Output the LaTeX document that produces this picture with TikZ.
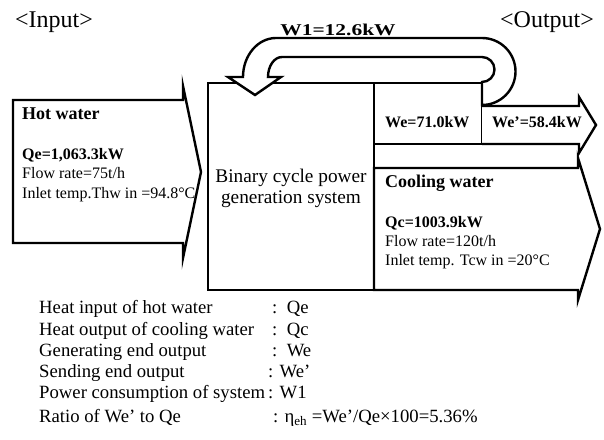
\documentclass[tikz,border=0pt]{standalone}
\usepackage{fontspec}
\setmainfont{Liberation Serif}
\usepackage{graphicx}
\usepackage{tikz}
\usetikzlibrary{positioning}

\begin{document}
\begin{tikzpicture}[
    x=1pt, y=-1pt,
    flow/.style={draw, line width=2.4pt, line join=miter, fill=white},
    title/.style={anchor=base west, inner sep=0pt, font=\fontsize{24}{28}\selectfont},
    head/.style={anchor=base west, inner sep=0pt, font=\fontsize{18}{21}\selectfont\bfseries},
    val/.style={anchor=base west, inner sep=0pt, font=\fontsize{16}{19}\selectfont\bfseries},
    txt/.style={anchor=base west, inner sep=0pt, font=\fontsize{16}{19}\selectfont},
    legend/.style={anchor=base west, inner sep=0pt, font=\fontsize{18.7}{21}\selectfont}
]
    \useasboundingbox (0,0) rectangle (604,439);

    % Titles
    \node[title] (intitle) at (15,27) {<Input>};
    \node[title] (outtitle) at (500,27) {<Output>};

    % Hot water inflow
    \draw[flow] (13,100) -- (183,100) -- (183,86) -- (201,172) -- (183,258) -- (183,243) -- (13,243) -- cycle;

    % Binary cycle system and generating end
    \draw[flow] (208,83) rectangle (374,290);
    \draw[flow] (374,83) rectangle (482,144);

    % Sending end output and cooling water
    \draw[flow] (482,106) -- (579,106) -- (579,97) -- (596,125) -- (579,153) -- (579,144) -- (482,144);
    \draw[flow] (374,168) -- (578,168) -- (578,158) -- (600,229) -- (578,300) -- (578,290) -- (374,290) -- cycle;

    % Power consumption loop W1
    \draw[flow] (482,82) arc[start angle=90, end angle=-90, radius=12.5] -- (282,57)
        arc[start angle=-90, end angle=-180, x radius=14, y radius=20]
        -- (281,77) -- (255,95) -- (228,77) -- (243,77)
        arc[start angle=180, end angle=270, x radius=33, y radius=39]
        -- (482,38) arc[start angle=-90, end angle=90, radius=33.5] -- cycle;
    \node[anchor=base, inner sep=0pt, font=\fontsize{16.5}{19}\selectfont\bfseries] (wone) at (338,35) {\scalebox{1.3}[1]{W1=12.6kW}};

    % Hot water texts
    \node[head] (hotw) at (22,119) {Hot water};
    \node[val] (qe) at (22,159) {Qe=1,063.3kW};
    \node[txt] (hotflow) at (22,178) {Flow rate=75t/h};
    \node[txt] (hottemp) at (22,198) {Inlet temp.Thw in =94.8°C};

    % System text
    \node[align=center, inner sep=0pt, font=\fontsize{19.3}{21}\selectfont] (system) at (291,188) {Binary cycle power\\generation system};

    % Output texts
    \node[val] (we) at (385,127) {We=71.0kW};
    \node[val] (wes) at (492,127) {We’=58.4kW};
    \node[head] (coolw) at (385,187) {Cooling water};
    \node[val] (qc) at (385,227) {Qc=1003.9kW};
    \node[txt] (coolflow) at (385,246) {Flow rate=120t/h};
    \node[txt] (cooltemp) at (385,265) {Inlet temp. Tcw in =20°C};

    % Legend
    \node[legend] (lgqe) at (39,313) {Heat input of hot water};
    \node[legend] (lgqeval) at (272,313) {:~~Qe};
    \node[legend] (lgqc) at (39,335) {Heat output of cooling water};
    \node[legend] (lgqcval) at (272,335) {:~~Qc};
    \node[legend] (lgwe) at (39,356) {Generating end output};
    \node[legend] (lgweval) at (272,356) {:~~We};
    \node[legend] (lgwes) at (39,377) {Sending end output};
    \node[legend] (lgwesval) at (268,377) {: We’};
    \node[legend] (lgwone) at (39,398) {Power consumption of system};
    \node[legend] (lgwoneval) at (268,398) {: W1};
    \node[legend] (lgratio) at (39,422) {Ratio of We’ to Qe};
    \node[legend] (lgratioval) at (273,422) {: η\textsubscript{eh} =We’/Qe×100=5.36\%};
\end{tikzpicture}
\end{document}
